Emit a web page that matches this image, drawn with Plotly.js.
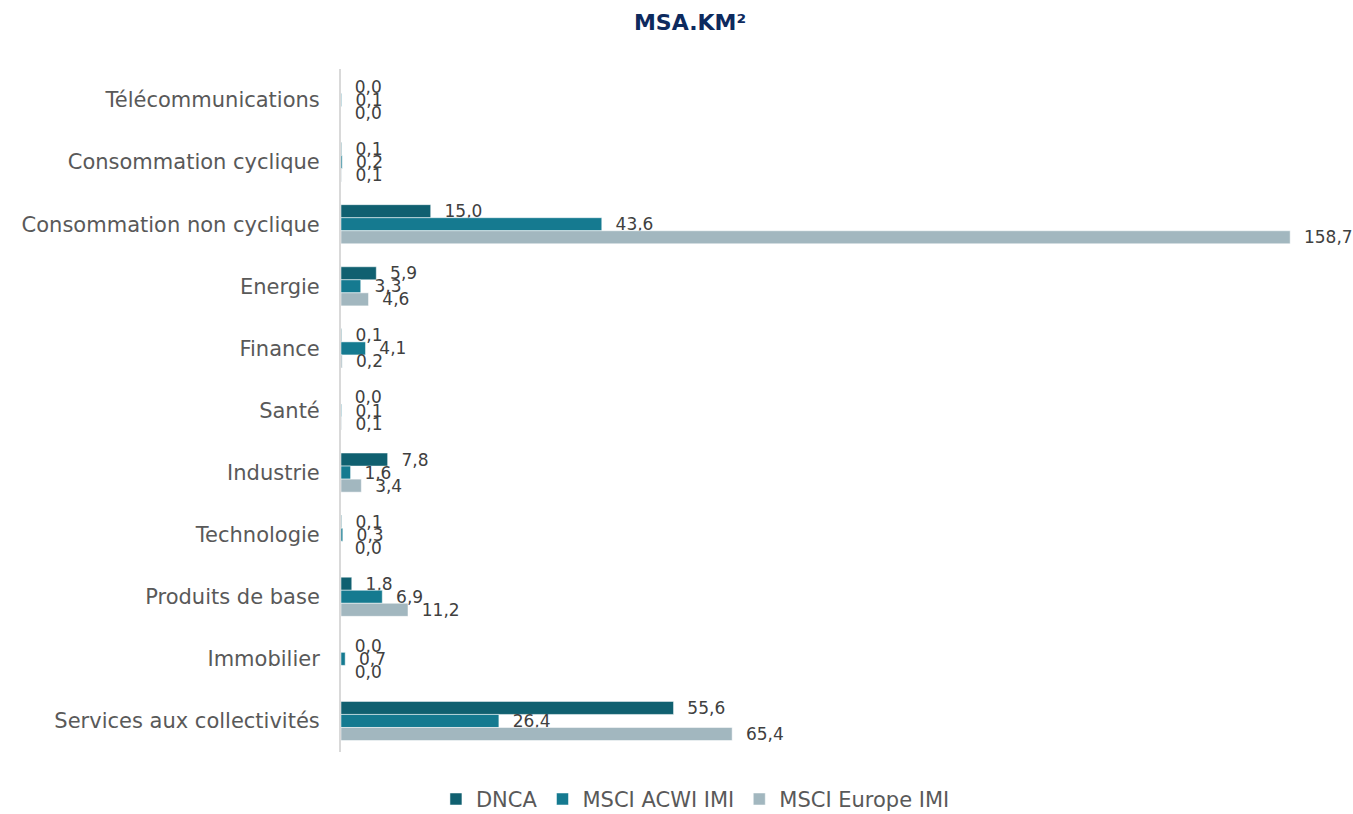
<!DOCTYPE html>
<html>
<head>
<meta charset="utf-8">
<script src="https://cdn.plot.ly/plotly-3.0.1.min.js"></script>
<style>html,body{margin:0;padding:0;background:#fff;}#chart{width:1353px;height:814px;}</style>
</head>
<body>
<div id="chart"></div>
<script>
const categories = ["Télécommunications","Consommation cyclique","Consommation non cyclique","Energie","Finance","Santé","Industrie","Technologie","Produits de base","Immobilier","Services aux collectivités"];
const seriesNames = ["DNCA","MSCI ACWI IMI","MSCI Europe IMI"];
const dnca = [0.0,0.1,15.0,5.9,0.1,0.0,7.8,0.1,1.8,0.0,55.6];
const acwi = [0.1,0.2,43.6,3.3,4.1,0.1,1.6,0.3,6.9,0.7,26.4];
const europe = [0.0,0.1,158.7,4.6,0.2,0.1,3.4,0.0,11.2,0.0,65.4];
const colors = ["#106070","#157a90","#a2b7bf"];
const FONT = "DejaVu Sans";

const mk = (vals, i) => ({
  type: "bar", orientation: "h", name: seriesNames[i],
  x: vals, y: categories,
  marker: {color: colors[i], line: {color: "#ffffff", width: 0.5}},
  texttemplate: "\u00a0\u00a0%{x:.1f}", textposition: "outside",
  constraintext: "none", cliponaxis: false,
  textfont: {family: FONT, size: 17, color: "#404040"},
  hoverinfo: "x+name"
});

const data = [mk(dnca,0), mk(acwi,1), mk(europe,2)];
const layout = {
  width: 1353, height: 814,
  separators: ", ",
  barmode: "group", bargap: 0.37, bargroupgap: 0,
  margin: {l: 341, r: 12, t: 69, b: 62, autoexpand: false},
  paper_bgcolor: "#ffffff", plot_bgcolor: "#ffffff",
  font: {family: FONT, color: "#595959"},
  title: {text: "<b>MSA.KM²</b>", x: 0.51, xref: "container", y: 0.973, yanchor: "middle",
          font: {family: FONT, size: 22, color: "#0d2a5e"}},
  xaxis: {range: [0, 167.2], visible: false, showgrid: false, zeroline: false, fixedrange: true},
  yaxis: {autorange: "reversed", type: "category", automargin: false,
          showline: true, linecolor: "#d9d9d9", linewidth: 2,
          ticks: "", ticklabelstandoff: 15,
          tickfont: {family: FONT, size: 21, color: "#595959"}},
  legend: {orientation: "h", x: 0.514, xref: "container", xanchor: "center",
           y: 0.018, yref: "container", yanchor: "middle",
           font: {family: FONT, size: 21, color: "#595959"}, traceorder: "normal"},
  showlegend: true
};
Plotly.newPlot("chart", data, layout, {displayModeBar: false, staticPlot: true});
</script>
</body>
</html>
